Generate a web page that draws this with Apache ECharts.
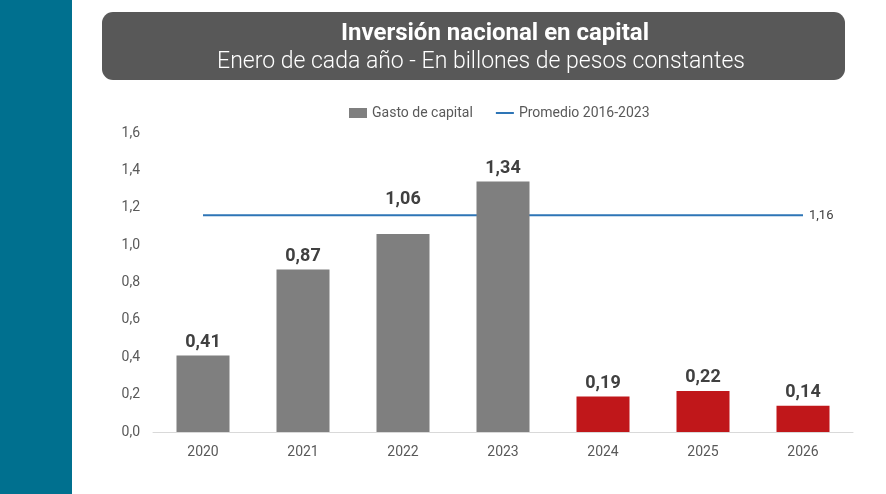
<!DOCTYPE html>
<html><head><meta charset="utf-8">
<script src="https://cdn.jsdelivr.net/npm/echarts@6/dist/echarts.min.js"></script>
<style>html,body{margin:0;padding:0;background:#fff}#c{width:886px;height:494px}</style>
</head><body><div id="c"></div>
<script>
const categories = ['2020','2021','2022','2023','2024','2025','2026'];
const gastoCapital = [0.41, 0.87, 1.06, 1.34, 0.19, 0.22, 0.14];
const promedio = [1.16, 1.16, 1.16, 1.16, 1.16, 1.16, 1.16];
const yTicks = [0, 0.2, 0.4, 0.6, 0.8, 1.0, 1.2, 1.4, 1.6];
const titleText = 'Inversión nacional en capital';
const subtitleText = 'Enero de cada año - En billones de pesos constantes';

const fmt = (v, d) => v.toFixed(d).replace('.', ',');
const font = 'Roboto';
const chart = echarts.init(document.getElementById('c'));
chart.setOption({
  animation: false,
  backgroundColor: '#fff',
  textStyle: { fontFamily: font },
  graphic: [
    { type: 'rect', shape: { x: 0, y: 0, width: 72, height: 494 }, style: { fill: '#00708F' } },
    { type: 'rect', shape: { x: 102, y: 12, width: 743, height: 68, r: 11 }, style: { fill: '#585858' } },
    { type: 'text', x: 495, y: 34, style: { text: titleText, fill: '#fff', font: 'bold 24px ' + font, align: 'center', verticalAlign: 'middle' } },
    { type: 'text', x: 481, y: 62, style: { text: subtitleText, fill: '#fff', font: '300 23px ' + font, align: 'center', verticalAlign: 'middle' } }
  ],
  legend: {
    top: 101, left: 344, itemGap: 22, itemWidth: 18, itemHeight: 10,
    textStyle: { fontSize: 14, color: '#595959', fontFamily: font },
    data: [
      { name: 'Gasto de capital', icon: 'rect' },
      { name: 'Promedio 2016-2023', itemStyle: { opacity: 0 } }
    ]
  },
  grid: { left: 153, right: 33, top: 133, bottom: 62, containLabel: false },
  xAxis: {
    type: 'category', data: categories,
    axisLine: { lineStyle: { color: '#d9d9d9' } },
    axisTick: { show: false },
    axisLabel: { color: '#595959', fontSize: 14, margin: 13 }
  },
  yAxis: {
    type: 'value', min: 0, max: 1.6, interval: 0.2,
    splitLine: { show: false }, axisLine: { show: false }, axisTick: { show: false },
    axisLabel: { color: '#595959', fontSize: 14, margin: 13, formatter: v => fmt(v, 1) }
  },
  series: [
    {
      name: 'Gasto de capital', type: 'bar', barWidth: 53,
      itemStyle: { color: '#7F7F7F' },
      data: gastoCapital.map((v, i) => ({
        value: v,
        itemStyle: { color: i >= 4 ? '#C0171A' : '#7F7F7F' },
        label: i === 2 ? { offset: [0, -21] } : {}
      })),
      label: { show: true, position: 'top', distance: 4, color: '#404040', fontSize: 18, fontWeight: 'bold', formatter: p => fmt(p.value, 2) },
      z: 2
    },
    {
      name: 'Promedio 2016-2023', type: 'line', data: promedio,
      symbol: 'none', lineStyle: { color: '#2E75B6', width: 2 }, itemStyle: { color: '#2E75B6' },
      endLabel: { show: true, color: '#404040', fontSize: 13, distance: 6, offset: [0, 1], formatter: p => fmt(p.value, 2) },
      z: 1
    }
  ]
});
</script></body></html>
